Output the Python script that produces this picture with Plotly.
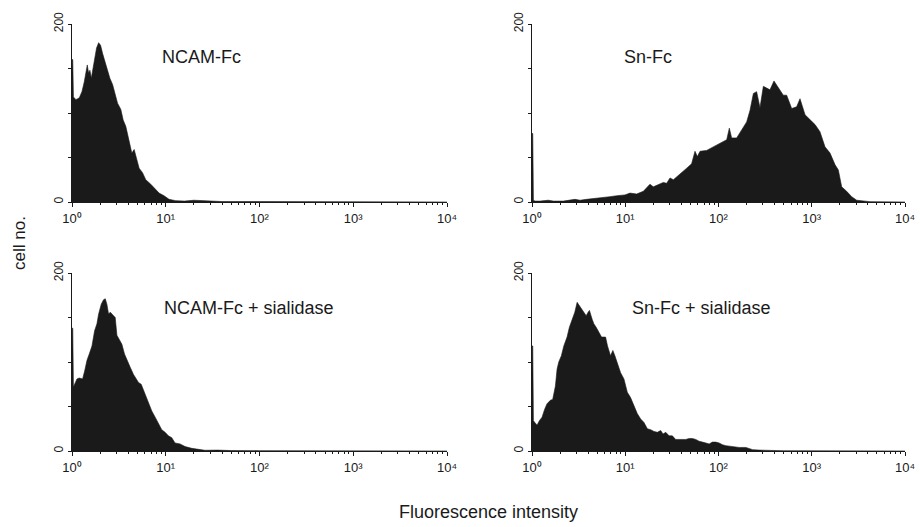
import plotly.graph_objects as go

# ---- data: log10(fluorescence intensity) positions and cell counts ----
NCAM_EXP = [0.0, 0.008, 0.015, 0.043, 0.078, 0.106, 0.131, 0.149, 0.163, 0.177, 0.191, 0.206,
            0.220, 0.238, 0.262, 0.284, 0.305, 0.326, 0.355, 0.379, 0.404, 0.433, 0.461, 0.486,
            0.521, 0.546, 0.574, 0.610, 0.638, 0.663, 0.688, 0.716, 0.752, 0.787, 0.840, 0.876,
            0.929, 0.982, 1.035, 1.106, 1.2, 1.3, 1.45, 1.6, 2.0, 2.5, 3.0, 4.0]
NCAM_CNT = [160, 160, 118, 115, 117, 124, 135, 148, 154, 145, 148, 139,
            148, 161, 173, 179, 176, 167, 156, 150, 139, 132, 120, 111,
            104, 92, 85, 70, 55, 59, 48, 38, 33, 25, 20, 16,
            10, 7, 3, 1.5, 1, 2, 1, 0.5, 0.5, 0.3, 0.2, 0]

SN_EXP = [0.0, 0.008, 0.015, 0.032, 0.086, 0.175, 0.229, 0.336, 0.461, 0.515, 0.586, 0.693,
          0.765, 0.836, 0.908, 0.997, 1.051, 1.122, 1.194, 1.265, 1.301, 1.355, 1.408, 1.444,
          1.480, 1.516, 1.551, 1.605, 1.659, 1.712, 1.748, 1.773, 1.802, 1.873, 1.945, 2.016,
          2.088, 2.116, 2.141, 2.195, 2.248, 2.302, 2.338, 2.374, 2.409, 2.445, 2.481, 2.517,
          2.552, 2.595, 2.624, 2.659, 2.695, 2.731, 2.785, 2.838, 2.874, 2.928, 2.981, 3.035,
          3.088, 3.142, 3.196, 3.249, 3.285, 3.321, 3.374, 3.428, 3.482, 3.553, 3.625, 4.0]
SN_CNT = [77, 77, 2, 1, 1, 2, 1, 1, 3, 2, 3, 4,
          5, 6, 7, 8, 10, 9, 12, 20, 17, 20, 22, 21,
          27, 25, 28, 33, 38, 43, 57, 51, 57, 58, 62, 66,
          70, 83, 72, 72, 81, 90, 103, 122, 124, 106, 130, 128,
          126, 136, 131, 126, 120, 120, 105, 107, 116, 98, 92, 87,
          79, 62, 55, 42, 36, 17, 12, 6, 2, 1, 0.4, 0]

NCAM_SIA_EXP = [0.0, 0.008, 0.015, 0.028, 0.053, 0.078, 0.113, 0.135, 0.160, 0.184, 0.213, 0.241,
                0.266, 0.284, 0.312, 0.337, 0.355, 0.372, 0.390, 0.408, 0.443, 0.461, 0.479, 0.504,
                0.532, 0.560, 0.585, 0.621, 0.656, 0.681, 0.709, 0.738, 0.752, 0.780, 0.816, 0.851,
                0.887, 0.922, 0.957, 0.993, 1.028, 1.064, 1.099, 1.152, 1.206, 1.277, 1.348, 1.418,
                1.55, 1.7, 2.0, 2.5, 3.0, 4.0]
NCAM_SIA_CNT = [138, 138, 72, 75, 81, 82, 81, 90, 102, 109, 118, 135,
                143, 154, 165, 170, 171, 165, 154, 156, 152, 150, 130, 126,
                120, 109, 102, 94, 86, 81, 77, 75, 71, 64, 53, 45,
                38, 30, 24, 21, 17, 15, 9, 8, 5, 3, 1.5, 0.8,
                1, 0.5, 0.4, 0.2, 0.2, 0]

SN_SIA_EXP = [0.0, 0.008, 0.015, 0.029, 0.054, 0.079, 0.108, 0.136, 0.161, 0.197, 0.222, 0.251,
              0.269, 0.287, 0.315, 0.341, 0.376, 0.401, 0.430, 0.459, 0.484, 0.509, 0.530, 0.556,
              0.581, 0.602, 0.616, 0.645, 0.663, 0.688, 0.717, 0.746, 0.789, 0.810, 0.842, 0.867,
              0.889, 0.914, 0.950, 0.986, 1.022, 1.057, 1.093, 1.129, 1.165, 1.201, 1.237, 1.272,
              1.308, 1.344, 1.380, 1.405, 1.434, 1.470, 1.505, 1.541, 1.577, 1.613, 1.649, 1.685,
              1.720, 1.756, 1.792, 1.828, 1.864, 1.900, 1.935, 1.971, 2.007, 2.043, 2.079, 2.151,
              2.222, 2.294, 2.366, 2.437, 2.55, 2.7, 3.0, 4.0]
SN_SIA_CNT = [118, 118, 34, 32, 29, 34, 38, 47, 53, 57, 58, 73,
              92, 100, 107, 118, 128, 139, 148, 156, 167, 163, 160, 156,
              152, 156, 158, 148, 143, 139, 133, 128, 128, 118, 107, 113,
              107, 100, 88, 81, 66, 60, 51, 42, 36, 32, 25, 24,
              22, 21, 23, 19, 21, 17, 17, 13, 13, 13, 13, 14,
              14, 13, 11, 10, 9, 8, 10, 10, 9, 7, 6, 5,
              4, 4, 1.5, 1, 0.5, 0.3, 0.2, 0]

PANEL_LABELS = ["NCAM-Fc", "Sn-Fc", "NCAM-Fc + sialidase", "Sn-Fc + sialidase"]
X_TICK_VALS = [1, 10, 100, 1000, 10000]
X_TICK_TEXT = ["10\u2070", "10\u00b9", "10\u00b2", "10\u00b3", "10\u2074"]
Y_TICK_VALS = [0, 200]
Y_TICK_TEXT = ["0", "200"]
Y_MINOR_VALS = [50, 100, 150]
X_TITLE = "Fluorescence intensity"
Y_TITLE = "cell no."

# ---- styling / layout ----
W, H = 920, 527
FILL = "#1a1a1a"
INK = "#1a1a1a"
FONT = "Liberation Sans, Arial, sans-serif"

# pixel boxes (left, right, top, bottom) for each panel
BOXES = [(72, 447, 24, 202), (532, 905, 24, 202),
         (72, 447, 273, 451), (532, 905, 273, 451)]
LABEL_POS = [(160, 57), (622, 57), (162, 308), (630, 308)]

series = [(NCAM_EXP, NCAM_CNT), (SN_EXP, SN_CNT),
          (NCAM_SIA_EXP, NCAM_SIA_CNT), (SN_SIA_EXP, SN_SIA_CNT)]

minor_vals = [m * 10 ** d for d in range(4) for m in range(2, 10)]

fig = go.Figure()
layout = dict(
    template="none",
    width=W, height=H,
    margin=dict(l=0, r=0, t=0, b=0, pad=0),
    paper_bgcolor="white", plot_bgcolor="white",
    showlegend=False,
    font=dict(family=FONT, color=INK),
)

for i, ((ex, cnt), (l, r, t, b)) in enumerate(zip(series, BOXES)):
    n = "" if i == 0 else str(i + 1)
    fig.add_trace(go.Scatter(
        x=[10 ** e for e in ex], y=cnt,
        mode="lines", line=dict(color=FILL, width=0.6),
        fill="tozeroy", fillcolor=FILL,
        xaxis="x" + n, yaxis="y" + n, hoverinfo="skip",
    ))
    layout["xaxis" + n] = dict(
        type="log", range=[0, 4], domain=[l / W, r / W], automargin=False,
        anchor="y" + n, showline=True, linecolor=INK, linewidth=1,
        ticks="outside", ticklen=4, tickcolor=INK, tickwidth=1,
        tickmode="array", tickvals=X_TICK_VALS, ticktext=X_TICK_TEXT,
        tickfont=dict(size=13, family=FONT, color=INK),
        showgrid=False, zeroline=False,
        minor=dict(ticks="outside", ticklen=2, tickcolor=INK, tickwidth=1,
                   tickmode="array", tickvals=minor_vals, showgrid=False),
    )
    layout["yaxis" + n] = dict(
        range=[0, 200], domain=[1 - b / H, 1 - t / H], automargin=False,
        anchor="x" + n, showline=True, linecolor=INK, linewidth=1,
        ticks="outside", ticklen=3, tickcolor=INK, tickwidth=1,
        tickmode="array", tickvals=Y_TICK_VALS, ticktext=Y_TICK_TEXT,
        tickangle=-90, tickfont=dict(size=12, family=FONT, color=INK),
        showgrid=False, zeroline=False,
        minor=dict(ticks="outside", ticklen=3, tickcolor=INK, tickwidth=1,
                   tickmode="array", tickvals=Y_MINOR_VALS, showgrid=False),
    )

annotations = []
for label, (px, py) in zip(PANEL_LABELS, LABEL_POS):
    annotations.append(dict(
        text=label, x=px / W, y=1 - py / H, xref="paper", yref="paper",
        xanchor="left", yanchor="middle", showarrow=False,
        font=dict(size=18, family=FONT, color=INK),
    ))
annotations.append(dict(
    text=Y_TITLE, x=19 / W, y=1 - 243 / H, xref="paper", yref="paper",
    xanchor="center", yanchor="middle", showarrow=False, textangle=-90,
    font=dict(size=17, family=FONT, color=INK),
))
annotations.append(dict(
    text=X_TITLE, x=488 / W, y=1 - 512 / H, xref="paper", yref="paper",
    xanchor="center", yanchor="middle", showarrow=False,
    font=dict(size=18, family=FONT, color=INK),
))
layout["annotations"] = annotations

fig.update_layout(**layout)
fig.write_html(
    "out.html",
    config={"displayModeBar": False, "staticPlot": True},
    post_script="document.body.style.margin='0';document.body.style.overflow='hidden';",
)
